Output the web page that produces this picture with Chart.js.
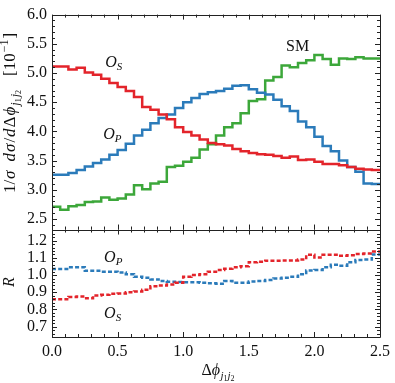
<!DOCTYPE html>
<html><head><meta charset="utf-8">
<script src="https://cdn.jsdelivr.net/npm/chart.js@4"></script>
<style>html,body{margin:0;padding:0;background:#fff;}#wrap{width:395px;height:383px;}</style>
</head><body><div id="wrap"><canvas id="c" width="395" height="383"></canvas></div>
<script>
// ---- data ----
const NBINS = 40;
const XMAX = 2.5;
const binEdges = Array.from({length: NBINS + 1}, (_, k) => k * XMAX / NBINS);

const distOS = [5.11,5.11,5.06,5.09,5.01,4.97,4.90,4.83,4.76,4.69,4.59,4.42,4.37,4.29,4.21,4.07,3.99,3.93,3.86,3.80,
                3.78,3.76,3.70,3.66,3.63,3.61,3.60,3.58,3.55,3.57,3.51,3.52,3.48,3.44,3.44,3.42,3.39,3.36,3.35,3.34];
const distOP = [3.26,3.26,3.29,3.34,3.40,3.46,3.52,3.60,3.68,3.79,3.93,4.03,4.14,4.23,4.29,4.40,4.50,4.57,4.64,4.67,
                4.69,4.73,4.78,4.79,4.72,4.66,4.63,4.54,4.43,4.35,4.17,4.07,3.91,3.75,3.66,3.50,3.39,3.31,3.11,3.10];
const distSM = [2.71,2.66,2.72,2.74,2.79,2.80,2.87,2.83,2.85,2.92,3.08,3.01,3.11,3.14,3.39,3.41,3.48,3.55,3.69,3.78,
                3.93,4.07,4.14,4.31,4.52,4.55,4.87,4.93,5.13,5.10,5.17,5.22,5.31,5.24,5.14,5.25,5.24,5.27,5.25,5.25];
const ratioOS = [0.860,0.860,0.873,0.875,0.865,0.882,0.885,0.892,0.893,0.900,0.905,0.915,0.935,0.940,0.945,0.955,0.990,1.000,1.005,1.020,
                 1.030,1.037,1.045,1.052,1.075,1.078,1.084,1.084,1.085,1.085,1.090,1.118,1.103,1.118,1.118,1.112,1.115,1.123,1.125,1.137];
const ratioOP = [1.035,1.035,1.045,1.045,1.025,1.025,1.020,1.020,1.015,1.005,0.990,0.985,0.975,0.965,0.962,0.960,0.958,0.958,0.955,0.952,
                 0.950,0.965,0.955,0.955,0.963,0.965,0.972,0.980,0.985,0.990,1.005,1.027,1.030,1.045,1.060,1.055,1.075,1.088,1.090,1.120];

const xTicks = [0, 0.5, 1.0, 1.5, 2.0, 2.5];
const yTopTicks = [2.5, 3.0, 3.5, 4.0, 4.5, 5.0, 5.5, 6.0];
const yBotTicks = [0.7, 0.8, 0.9, 1.0, 1.1, 1.2];

// ---- style ----
const FONT = '"Liberation Serif","Times New Roman",serif';
const RED = '#e3242b', BLUE = '#2b7bba', GREEN = '#3ca73a';

function stepPoints(vals) {
  return binEdges.map((x, i) => ({x: x, y: vals[Math.min(i, vals.length - 1)]}));
}
function ds(vals, color, axis, dashed) {
  return {data: stepPoints(vals), yAxisID: axis, borderColor: color, borderWidth: 2.5,
    borderDash: dashed ? [4, 2.2] : [], stepped: true, pointRadius: 0, fill: false,
    borderCapStyle: 'butt', borderJoinStyle: 'miter'};
}
const setTicks = list => s => { s.ticks = list.map(v => ({value: v})); };

function richWidth(ctx, parts) {
  let w = 0;
  for (const p of parts) { ctx.font = (p.it ? 'italic ' : '') + p.sz + 'px ' + FONT; w += ctx.measureText(p.t).width + (p.gap || 0); }
  return w;
}
function drawRich(ctx, parts, x, y) {
  let cx = x;
  for (const p of parts) {
    ctx.font = (p.it ? 'italic ' : '') + p.sz + 'px ' + FONT;
    ctx.fillText(p.t, cx, y + (p.dy || 0));
    cx += ctx.measureText(p.t).width + (p.gap || 0);
  }
}
const labO = sub => [{t: 'O', it: true, sz: 16}, {t: sub, it: true, sz: 11, dy: 3}];

const decor = {
  id: 'decor',
  afterDatasetsDraw(chart) {
    const ctx = chart.ctx, x = chart.scales.x, yt = chart.scales.yTop, yb = chart.scales.yBot;
    const L = x.left, R = x.right;
    ctx.save();
    ctx.strokeStyle = '#222'; ctx.lineWidth = 1;
    const panels = [
      {s: yt, top: yt.top, bot: yt.bottom, major: yTopTicks, lo: 2.4, hi: 6.0, step: 0.1},
      {s: yb, top: yb.top, bot: yb.bottom, major: yBotTicks, lo: 0.64, hi: 1.26, step: 0.02}
    ];
    ctx.beginPath();
    for (const p of panels) {
      ctx.rect(Math.round(L) + 0.5, Math.round(p.top) + 0.5, Math.round(R) - Math.round(L), Math.round(p.bot) - Math.round(p.top));
      for (let v = 0; v <= 2.5001; v += 0.1) {
        const px = Math.round(x.getPixelForValue(v)) + 0.5;
        const isMaj = Math.abs(v * 2 - Math.round(v * 2)) < 1e-6;
        const len = isMaj ? 5 : 3;
        ctx.moveTo(px, p.top); ctx.lineTo(px, p.top + len);
        ctx.moveTo(px, p.bot); ctx.lineTo(px, p.bot - len);
      }
      const n = Math.round((p.hi - p.lo) / p.step);
      for (let i = 0; i <= n; i++) {
        const v = p.lo + i * p.step;
        const py = Math.round(p.s.getPixelForValue(v)) + 0.5;
        if (py < p.top + 0.4 || py > p.bot + 0.6) continue;
        const isMaj = p.major.some(m => Math.abs(m - v) < 1e-6);
        const len = isMaj ? 5 : 3;
        ctx.moveTo(L, py); ctx.lineTo(L + len, py);
        ctx.moveTo(R, py); ctx.lineTo(R - len, py);
      }
    }
    ctx.stroke();

    ctx.fillStyle = '#111'; ctx.textBaseline = 'alphabetic'; ctx.textAlign = 'left';
    drawRich(ctx, labO('S'), x.getPixelForValue(0.405), yt.getPixelForValue(5.105));
    drawRich(ctx, labO('P'), x.getPixelForValue(0.39), yt.getPixelForValue(3.871));
    drawRich(ctx, [{t: 'SM', sz: 16}], x.getPixelForValue(1.784), yt.getPixelForValue(5.376));
    drawRich(ctx, labO('P'), x.getPixelForValue(0.397), yb.getPixelForValue(1.076));
    drawRich(ctx, labO('S'), x.getPixelForValue(0.397), yb.getPixelForValue(0.75));

    const xt = [{t: 'Δ', sz: 16}, {t: 'ϕ', it: true, sz: 16, gap: 0.5},
      {t: 'j', it: true, sz: 11, dy: 4}, {t: '1', sz: 8, dy: 6}, {t: 'j', it: true, sz: 11, dy: 4}, {t: '2', sz: 8, dy: 6}];
    const xw = richWidth(ctx, xt);
    drawRich(ctx, xt, (L + R) / 2 - xw / 2 + 2, 375);

    const yt1 = [{t: '1/', sz: 17, gap: 1}, {t: 'σ', it: true, sz: 17, gap: 9}, {t: 'd', it: true, sz: 17, gap: 1}, {t: 'σ', it: true, sz: 17, gap: 1}, {t: '/', sz: 17, gap: 1},
      {t: 'd', it: true, sz: 17, gap: 1}, {t: 'Δ', sz: 17, gap: 1}, {t: 'ϕ', it: true, sz: 17, gap: 1},
      {t: 'j', it: true, sz: 12, dy: 4}, {t: '1', sz: 8, dy: 6, gap: 1}, {t: 'j', it: true, sz: 12, dy: 4}, {t: '2', sz: 8, dy: 6, gap: 14},
      {t: '[10', sz: 17, gap: 1}, {t: '−1', sz: 12, dy: -7, gap: 1}, {t: ']', sz: 17}];
    const w1 = richWidth(ctx, yt1);
    ctx.save();
    ctx.translate(15, 113);
    ctx.rotate(-Math.PI / 2);
    drawRich(ctx, yt1, -w1 / 2, 0);
    ctx.restore();
    const yt2 = [{t: 'R', it: true, sz: 16}];
    const w2 = richWidth(ctx, yt2);
    ctx.save();
    ctx.translate(14, 282);
    ctx.rotate(-Math.PI / 2);
    drawRich(ctx, yt2, -w2 / 2, 0);
    ctx.restore();
    ctx.restore();
  }
};

const tickFont = {family: FONT, size: 16};
const yCommon = {
  type: 'linear', position: 'left', stack: 'panels', offset: false,
  grid: {display: false, drawTicks: false}, border: {display: false},
  ticks: {font: tickFont, color: '#111', padding: 5, autoSkip: false, callback: v => v.toFixed(1)},
  afterFit: s => { s.width = 52; }
};

new Chart(document.getElementById('c'), {
  type: 'line',
  data: {datasets: [
    ds(distOS, RED, 'yTop'), ds(distOP, BLUE, 'yTop'), ds(distSM, GREEN, 'yTop'),
    ds(ratioOS, RED, 'yBot', true), ds(ratioOP, BLUE, 'yBot', true)
  ]},
  options: {
    responsive: false, animation: false, devicePixelRatio: 1,
    layout: {padding: {top: 6, right: 9.5, left: 0, bottom: 0}},
    plugins: {legend: {display: false}, tooltip: {enabled: false}},
    scales: {
      x: {type: 'linear', position: 'bottom', min: 0, max: XMAX, offset: false,
        grid: {display: false, drawTicks: false}, border: {display: false},
        afterBuildTicks: setTicks(xTicks),
        ticks: {font: tickFont, color: '#111', padding: 5, maxRotation: 0, autoSkip: false, callback: v => v.toFixed(1)},
        afterFit: s => { s.height = 46; }},
      yBot: Object.assign({}, yCommon, {min: 0.64, max: 1.265, stackWeight: 1, afterBuildTicks: setTicks(yBotTicks)}),
      yTop: Object.assign({}, yCommon, {min: 2.32, max: 6.0, stackWeight: 2, afterBuildTicks: setTicks(yTopTicks)})
    }
  },
  plugins: [decor]
});
</script></body></html>
